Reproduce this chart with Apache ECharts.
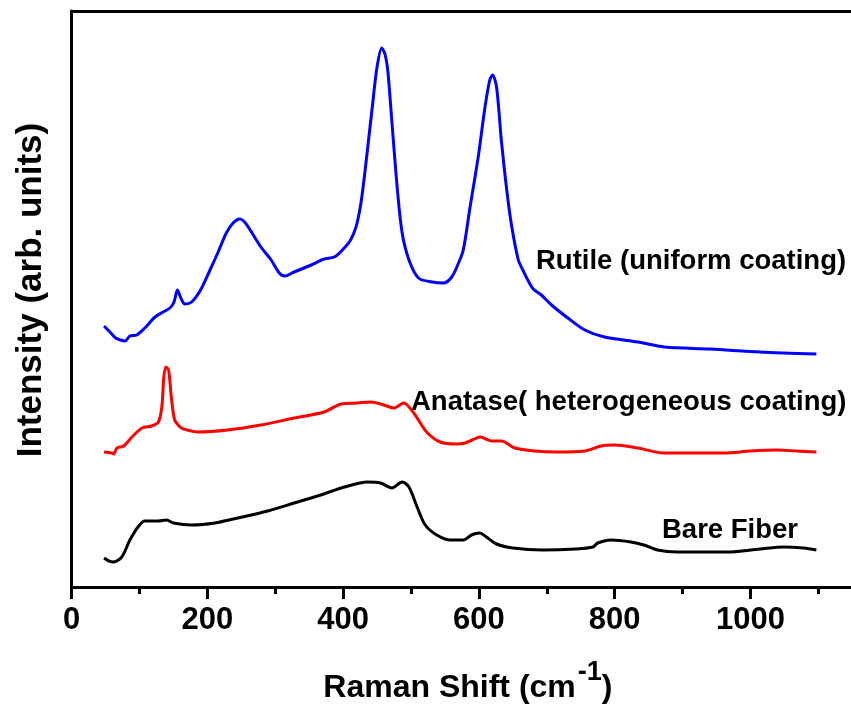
<!DOCTYPE html>
<html>
<head>
<meta charset="utf-8">
<script src="https://cdn.jsdelivr.net/npm/echarts@6/dist/echarts.min.js"></script>
<style>
html,body{margin:0;padding:0;background:#fff;}
#chart{width:851px;height:707px;}
</style>
</head>
<body>
<div id="chart"></div>
<script>
// Raman shift (cm^-1) and intensity (arb. units)
const rutile = [[48,261],[58,254],[65,249],[72,247],[79,246],[86,251],[96,252],[108,259],[123,270],[135,275],[145,279],[151,285],[156,297],[161,289],[167,283],[177,285],[190,297],[204,317],[216,335],[228,354],[238,364],[248,368],[255,365],[265,355],[279,340],[294,327],[306,314],[314,311],[328,315],[353,322],[372,328],[387,330],[399,337],[411,347],[419,360],[424,375],[428,392],[433,420],[443,480],[450,520],[457,539],[462,532],[466,515],[472,464],[480,397],[487,354],[497,327],[511,309],[531,305],[548,304],[560,310],[570,324],[577,337],[587,380],[599,430],[609,480],[616,507],[620,512],[626,500],[633,447],[641,397],[648,362],[658,327],[664,318],[672,307],[680,298],[692,292],[707,282],[731,269],[756,257],[785,250],[834,245],[873,240],[941,238],[1014,235],[1097,233]];
const anatase = [[48,135],[59,134],[62,133],[67,139],[77,141],[89,150],[104,159],[118,161],[128,165],[133,180],[136,210],[139,220],[143,217],[147,190],[152,167],[160,160],[165,158],[186,155],[230,157],[279,162],[328,169],[372,175],[397,183],[421,184],[441,185],[460,182],[475,179],[489,184],[504,174],[523,155],[543,145],[567,143],[580,144],[590,147],[602,150],[610,148],[619,146],[633,146],[653,139],[682,136],[716,135],[756,136],[780,141],[800,142],[834,139],[873,134],[912,134],[961,134],[1000,136],[1039,137],[1068,136],[1097,135]];
const bare = [[48,29],[55,26],[62,25],[74,30],[86,47],[99,61],[108,66],[128,66],[140,67],[150,64],[177,62],[211,64],[245,69],[289,76],[328,84],[367,92],[402,100],[436,105],[455,104],[472,99],[487,105],[497,100],[509,80],[521,62],[538,52],[558,47],[577,47],[589,52],[601,54],[611,50],[626,43],[650,39],[694,37],[743,38],[768,40],[775,44],[795,47],[824,45],[843,42],[863,37],[892,35],[966,35],[1014,38],[1049,40],[1078,39],[1097,37]];
const seriesNames = ['Rutile (uniform coating)', 'Anatase( heterogeneous coating)', 'Bare Fiber'];
const seriesColors = ['#0000ff', '#ff0000', '#000000'];
const xTicks = {min: 0, max: 1200, interval: 200, lastLabel: 1000};

const chart = echarts.init(document.getElementById('chart'), null, {renderer: 'canvas'});
const font = 'Liberation Sans, Arial, sans-serif';
const mk = (name, data, color) => ({
  name, type: 'line', data, showSymbol: false, smooth: 0.3,
  lineStyle: {color, width: 3}, itemStyle: {color}, clip: true, z: 3
});
chart.setOption({
  animation: false,
  backgroundColor: '#fff',
  grid: {left: 71.5, top: 11, width: 814.8, height: 576, containLabel: false, outerBoundsMode: 'none'},
  xAxis: [{
    type: 'value', position: 'bottom', min: xTicks.min, max: xTicks.max, interval: xTicks.interval,
    name: '{m|Raman Shift (cm}{s|-1}{m|)}', nameLocation: 'middle', nameGap: 72,
    nameTextStyle: {padding: [0, 22, 0, 0], rich: {
      m: {fontSize: 32, fontWeight: 'bold', fontFamily: font, color: '#000', verticalAlign: 'bottom'},
      s: {fontSize: 27, fontWeight: 'bold', fontFamily: font, color: '#000', verticalAlign: 'bottom', padding: [0, 0, 18, 2]}
    }},
    axisLine: {show: true, onZero: false, lineStyle: {color: '#000', width: 3}},
    axisTick: {show: true, inside: false, length: 12, lineStyle: {color: '#000', width: 3}},
    minorTick: {show: true, splitNumber: 2, length: 7, lineStyle: {color: '#000', width: 3}},
    splitLine: {show: false},
    axisLabel: {fontSize: 31, fontWeight: 'bold', fontFamily: font, color: '#000', margin: 18,
      formatter: v => (v > xTicks.lastLabel ? '' : String(v))}
  }, {
    type: 'value', position: 'top', min: xTicks.min, max: xTicks.max,
    axisLine: {show: true, onZero: false, lineStyle: {color: '#000', width: 3}},
    axisTick: {show: false}, axisLabel: {show: false}, splitLine: {show: false}
  }],
  yAxis: {
    type: 'value', min: 0, max: 576,
    name: 'Intensity (arb. units)', nameLocation: 'middle', nameGap: 23,
    nameTextStyle: {fontSize: 35, fontWeight: 'bold', fontFamily: font, color: '#000', padding: [0, 0, 0, 18]},
    axisLine: {show: true, onZero: false, lineStyle: {color: '#000', width: 3}},
    axisTick: {show: false}, axisLabel: {show: false}, splitLine: {show: false}
  },
  series: [
    mk(seriesNames[0], rutile, seriesColors[0]),
    mk(seriesNames[1], anatase, seriesColors[1]),
    mk(seriesNames[2], bare, seriesColors[2])
  ],
  graphic: [
    {type: 'text', left: 536, top: 247, style: {text: seriesNames[0], font: 'bold 27.5px ' + font, fill: '#000', verticalAlign: 'middle'}},
    {type: 'text', left: 411, top: 388, style: {text: seriesNames[1], font: 'bold 27.5px ' + font, fill: '#000', verticalAlign: 'middle'}},
    {type: 'text', left: 662, top: 516, style: {text: seriesNames[2], font: 'bold 27.5px ' + font, fill: '#000', verticalAlign: 'middle'}}
  ]
});
</script>
</body>
</html>
